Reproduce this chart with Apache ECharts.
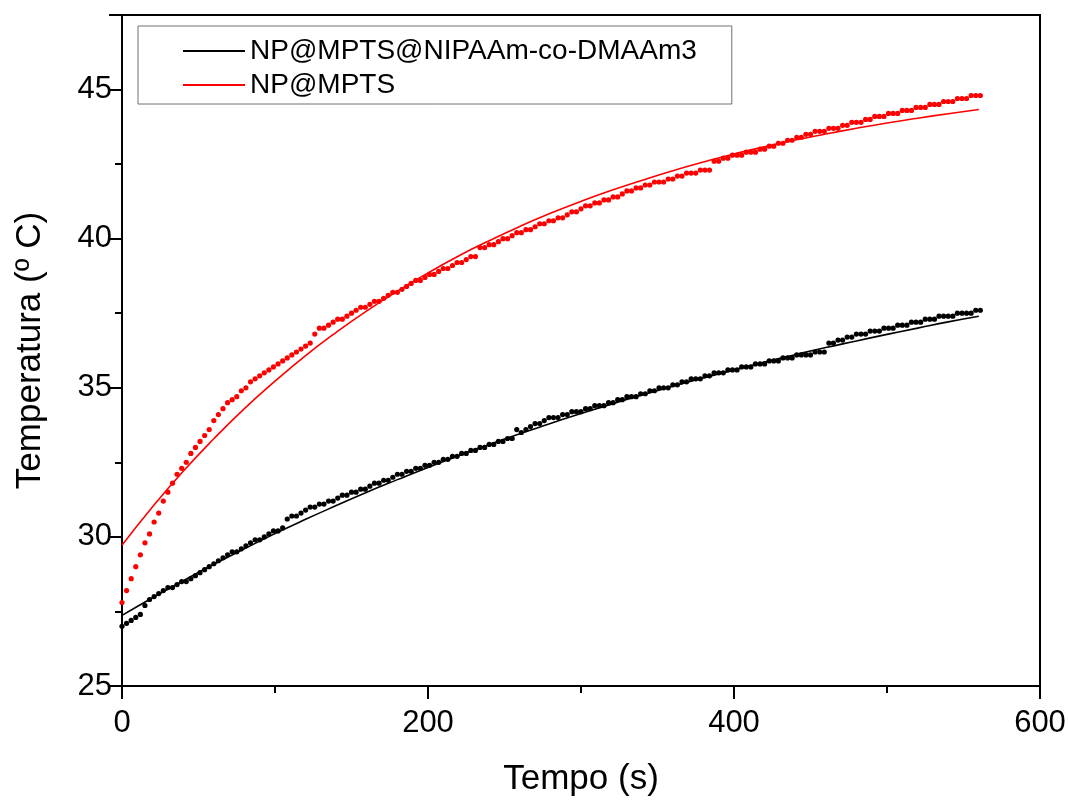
<!DOCTYPE html>
<html>
<head>
<meta charset="utf-8">
<script src="https://cdn.jsdelivr.net/npm/echarts@6/dist/echarts.min.js"></script>
<style>html,body{margin:0;padding:0;background:#fff;}#chart{width:1068px;height:801px;}</style>
</head>
<body>
<div id="chart"></div>
<script>
const timeS = [0,3,6,9,12,15,18,21,24,27,30,33,36,39,42,45,48,51,54,57,60,63,66,69,72,75,78,81,84,87,90,93,96,99,102,105,108,111,114,117,120,123,126,129,132,135,138,141,144,147,150,153,156,159,162,165,168,171,174,177,180,183,186,189,192,195,198,201,204,207,210,213,216,219,222,225,228,231,234,237,240,243,246,249,252,255,258,261,264,267,270,273,276,279,282,285,288,291,294,297,300,303,306,309,312,315,318,321,324,327,330,333,336,339,342,345,348,351,354,357,360,363,366,369,372,375,378,381,384,387,390,393,396,399,402,405,408,411,414,417,420,423,426,429,432,435,438,441,444,447,450,453,456,459,462,465,468,471,474,477,480,483,486,489,492,495,498,501,504,507,510,513,516,519,522,525,528,531,534,537,540,543,546,549,552,555,558,561];

const redData = [
27.8,28.2,28.6,29.0,29.4,29.8,30.1,30.5,30.8,31.2,
31.5,31.8,32.1,32.3,32.5,32.8,33.0,33.2,33.4,33.6,
33.9,34.1,34.3,34.5,34.6,34.7,34.9,35.0,35.2,35.3,
35.4,35.5,35.6,35.7,35.8,35.9,36.0,36.1,36.2,36.3,
36.4,36.5,36.8,37.0,37.0,37.1,37.2,37.3,37.3,37.4,
37.5,37.6,37.7,37.7,37.8,37.9,37.9,38.0,38.1,38.2,
38.2,38.3,38.4,38.5,38.6,38.6,38.7,38.8,38.8,38.9,
39.0,39.0,39.1,39.2,39.2,39.3,39.4,39.4,39.7,39.7,
39.8,39.8,39.9,40.0,40.0,40.1,40.2,40.2,40.3,40.3,
40.4,40.5,40.5,40.6,40.6,40.7,40.7,40.8,40.9,40.9,
41.0,41.1,41.1,41.2,41.2,41.3,41.3,41.4,41.4,41.5,
41.6,41.6,41.7,41.7,41.8,41.8,41.9,41.9,41.9,42.0,
42.0,42.1,42.1,42.2,42.2,42.2,42.3,42.3,42.3,42.6,
42.6,42.7,42.7,42.8,42.8,42.8,42.9,42.9,42.9,43.0,
43.0,43.1,43.1,43.2,43.2,43.3,43.3,43.4,43.4,43.5,
43.5,43.6,43.6,43.6,43.7,43.7,43.7,43.8,43.8,43.9,
43.9,43.9,44.0,44.0,44.1,44.1,44.1,44.2,44.2,44.2,
44.3,44.3,44.3,44.4,44.4,44.4,44.5,44.5,44.5,44.6,
44.6,44.6,44.7,44.7,44.7,44.8,44.8,44.8];

const blackData = [
27.0,27.1,27.2,27.3,27.4,27.7,27.9,28.0,28.1,28.2,
28.3,28.3,28.4,28.5,28.5,28.6,28.7,28.8,28.9,29.0,
29.1,29.2,29.3,29.4,29.5,29.5,29.6,29.7,29.8,29.9,
29.9,30.0,30.1,30.2,30.2,30.3,30.6,30.7,30.7,30.8,
30.9,31.0,31.0,31.1,31.1,31.2,31.2,31.3,31.4,31.4,
31.5,31.5,31.6,31.6,31.7,31.8,31.8,31.9,31.9,32.0,
32.1,32.1,32.2,32.2,32.3,32.3,32.4,32.4,32.5,32.5,
32.6,32.6,32.7,32.7,32.8,32.8,32.9,32.9,33.0,33.0,
33.1,33.1,33.2,33.2,33.3,33.3,33.6,33.5,33.6,33.7,
33.8,33.8,33.9,34.0,34.0,34.0,34.1,34.1,34.2,34.2,
34.2,34.3,34.3,34.4,34.4,34.4,34.5,34.5,34.6,34.6,
34.7,34.7,34.7,34.8,34.8,34.9,34.9,35.0,35.0,35.0,
35.1,35.1,35.2,35.2,35.3,35.3,35.3,35.4,35.4,35.5,
35.5,35.5,35.6,35.6,35.6,35.7,35.7,35.7,35.8,35.8,
35.8,35.9,35.9,35.9,36.0,36.0,36.0,36.1,36.1,36.1,
36.1,36.2,36.2,36.2,36.5,36.5,36.6,36.6,36.7,36.7,
36.8,36.8,36.8,36.9,36.9,36.9,37.0,37.0,37.0,37.1,
37.1,37.1,37.2,37.2,37.2,37.3,37.3,37.3,37.4,37.4,
37.4,37.4,37.5,37.5,37.5,37.5,37.6,37.6];

const fitTime = [0,20,40,60,80,100,120,140,160,180,200,220,240,260,280,300,320,340,360,380,400,420,440,460,480,500,520,540,560];
const redFit = [29.72,31.01,32.20,33.29,34.30,35.22,36.08,36.86,37.58,38.24,38.85,39.42,39.93,40.41,40.85,41.25,41.62,41.96,42.28,42.57,42.84,43.08,43.31,43.51,43.70,43.88,44.04,44.19,44.33];
const blackFit = [27.37,27.96,28.53,29.08,29.60,30.11,30.59,31.05,31.50,31.92,32.33,32.72,33.10,33.46,33.80,34.14,34.45,34.76,35.05,35.33,35.60,35.86,36.11,36.35,36.57,36.79,37.00,37.21,37.40];

const xTicks = {min: 0, max: 600, interval: 200};
const yTicks = {min: 25, max: 47.5, interval: 5};

const nameBlack = 'NP@MPTS@NIPAAm-co-DMAAm3';
const nameRed = 'NP@MPTS';

const pairs = (xs, ys) => xs.map((x, i) => [x, ys[i]]);
const FONT = '"Liberation Sans", Arial, sans-serif';

const chart = echarts.init(document.getElementById('chart'), null, {renderer: 'canvas'});
chart.setOption({
  backgroundColor: '#fff',
  animation: false,
  textStyle: {fontFamily: FONT},
  grid: {left: 122, right: 28, top: 15, bottom: 115, containLabel: false, outerBoundsMode: 'none',
         show: true, borderColor: '#000', borderWidth: 2, backgroundColor: 'transparent'},
  legend: {
    orient: 'vertical', left: 138, top: 26,
    padding: [11, 35, 5, 45], itemGap: 6,
    itemWidth: 62, itemHeight: 2,
    borderColor: '#707070', borderWidth: 1, borderRadius: 0,
    textStyle: {fontFamily: FONT, fontSize: 28, color: '#000'},
    data: [{name: nameBlack, icon: 'rect'}, {name: nameRed, icon: 'rect'}]
  },
  xAxis: {
    type: 'value', min: xTicks.min, max: xTicks.max, interval: xTicks.interval,
    name: 'Tempo (s)', nameLocation: 'middle', nameGap: 76,
    nameTextStyle: {fontFamily: FONT, fontSize: 35, color: '#000'},
    axisLine: {show: true, onZero: false, lineStyle: {color: '#000', width: 2}},
    axisTick: {show: true, inside: false, length: 13, lineStyle: {color: '#000', width: 2}},
    minorTick: {show: true, splitNumber: 2, length: 7, lineStyle: {color: '#000', width: 2}},
    splitLine: {show: false},
    axisLabel: {fontFamily: FONT, fontSize: 31, color: '#000', margin: 22}
  },
  yAxis: {
    type: 'value', min: yTicks.min, max: yTicks.max, interval: yTicks.interval,
    name: 'Temperatura (º C)', nameLocation: 'middle', nameGap: 74, nameRotate: 90,
    nameTextStyle: {fontFamily: FONT, fontSize: 35, color: '#000'},
    axisLine: {show: true, onZero: false, lineStyle: {color: '#000', width: 2}},
    axisTick: {show: true, inside: false, length: 13, lineStyle: {color: '#000', width: 2}},
    minorTick: {show: true, splitNumber: 2, length: 7, lineStyle: {color: '#000', width: 2}},
    splitLine: {show: false},
    axisLabel: {fontFamily: FONT, fontSize: 31, color: '#000', margin: 10,
      formatter: v => (v % 5 === 0 ? String(v) : '')}
  },
  series: [
    {name: 'dados ' + nameBlack, type: 'scatter', data: pairs(timeS, blackData),
     symbol: 'circle', symbolSize: 5.2, itemStyle: {color: '#000', opacity: 1}, silent: true},
    {name: 'dados ' + nameRed, type: 'scatter', data: pairs(timeS, redData),
     symbol: 'circle', symbolSize: 5.2, itemStyle: {color: '#ff0000', opacity: 1}, silent: true},
    {name: nameBlack, type: 'line', data: pairs(fitTime, blackFit), smooth: true,
     showSymbol: false, symbol: 'none', lineStyle: {color: '#000', width: 1.6}, itemStyle: {color: '#000'}},
    {name: nameRed, type: 'line', data: pairs(fitTime, redFit), smooth: true,
     showSymbol: false, symbol: 'none', lineStyle: {color: '#ff0000', width: 1.6}, itemStyle: {color: '#ff0000'}}
  ]
});
</script>
</body>
</html>
